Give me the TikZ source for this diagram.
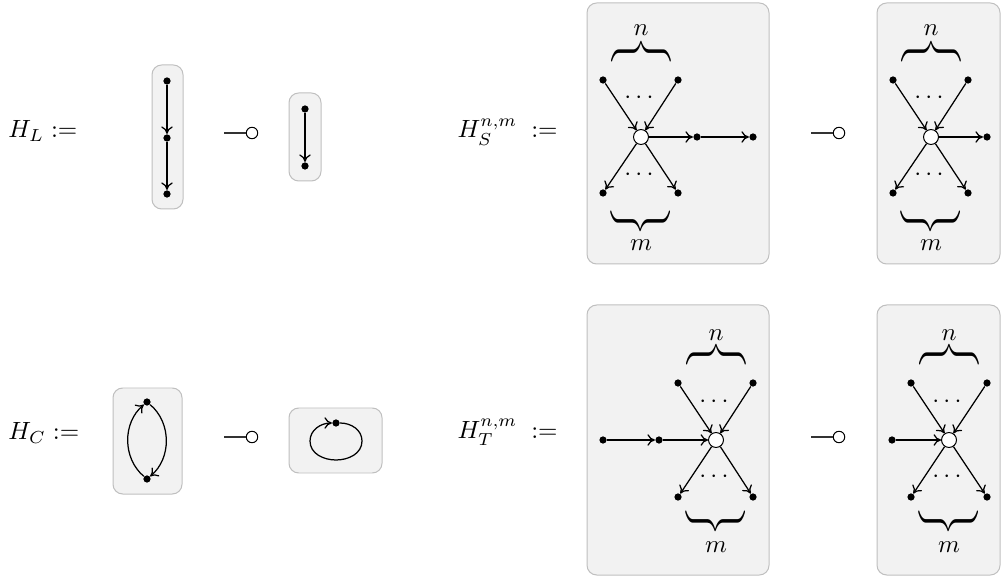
\documentclass[tikz,border=0pt]{standalone}
\usepackage{amsmath}
\usetikzlibrary{arrows.meta}
\begin{document}
\begin{tikzpicture}[x=0.0141cm,y=0.0141cm,>={To[length=3pt,width=4.6pt]}]
        \tikzstyle{vertex}=[circle,fill=black,inner sep=0pt,minimum size=2.9pt]
        \tikzstyle{hub}=[circle,draw=black,fill=white,inner sep=0pt,minimum size=6pt]
        \tikzstyle{edge}=[draw,line width=0.5pt,->]
        \tikzstyle{graphbox}=[draw=black!25,fill=black!5,rounded corners=3.9pt]
        \tikzstyle{hole}=[circle,draw=black,fill=white,inner sep=0pt,minimum size=4.6pt]
        \tikzstyle{stem}=[draw=black!80,line width=0.5pt]
        \tikzstyle{over}=[rotate=90,inner sep=0pt]
        \tikzstyle{under}=[rotate=-90,inner sep=0pt]
        \newcommand{\curly}{\scalebox{1.7}[1]{$\bigg\}$}}
        \useasboundingbox (0,0) rectangle (1001,576);

        % line
        \node [anchor=base west,inner sep=0pt] (hl) at (8,438) {$H_L :=$};
        \draw [graphbox] (152,367) rectangle (183,511);
        \node [vertex] (l1) at (167,495) {};
        \node [vertex] (l2) at (167,438) {};
        \node [vertex] (l3) at (167,382) {};
        \path[edge] (l1) to (l2);
        \path[edge] (l2) to (l3);
        \node [hole] (o1) at (252,443) {};
        \path[stem] (o1.west) -- ++(-22,0);
        \draw [graphbox] (289,395) rectangle (321,483);
        \node [vertex] (l4) at (305,467) {};
        \node [vertex] (l5) at (305,410) {};
        \path[edge] (l4) to (l5);

        % source star
        \node [anchor=base west,inner sep=0pt] (hs) at (457,438) {$H_S^{n,m} \;:=$};
        \draw [graphbox] (587,312) rectangle (769,573);
        \node [hub] (s0) at (641,439) {};
        \node [vertex] (s1) at (603,496) {};
        \node [vertex] (s2) at (678,496) {};
        \node [vertex] (s3) at (697,439) {};
        \node [vertex] (s4) at (753,439) {};
        \node [vertex] (s5) at (603,383) {};
        \node [vertex] (s6) at (678,383) {};
        \path[edge] (s1) to (s0);
        \path[edge] (s2) to (s0);
        \path[edge] (s0) to (s3);
        \path[edge] (s3) to (s4);
        \path[edge] (s0) to (s5);
        \path[edge] (s0) to (s6);
        \node (sd1) at (641,478) {$\cdots$};
        \node (sd2) at (641,401) {$\cdots$};
        \node [over] (sb1) at (641,524) {\curly};
        \node [under] (sb2) at (641,355) {\curly};
        \node (sn) at (641,546) {$n$};
        \node (sm) at (641,331) {$m$};

        \node [hole] (o2) at (839,443) {};
        \path[stem] (o2.west) -- ++(-22,0);
        \draw [graphbox] (877,312) rectangle (1000,573);
        \node [hub] (r0) at (931,439) {};
        \node [vertex] (r1) at (893,496) {};
        \node [vertex] (r2) at (968,496) {};
        \node [vertex] (r3) at (987,439) {};
        \node [vertex] (r5) at (893,383) {};
        \node [vertex] (r6) at (968,383) {};
        \path[edge] (r1) to (r0);
        \path[edge] (r2) to (r0);
        \path[edge] (r0) to (r3);
        \path[edge] (r0) to (r5);
        \path[edge] (r0) to (r6);
        \node (rd1) at (931,478) {$\cdots$};
        \node (rd2) at (931,401) {$\cdots$};
        \node [over] (rb1) at (931,524) {\curly};
        \node [under] (rb2) at (931,355) {\curly};
        \node (rn) at (931,546) {$n$};
        \node (rm) at (931,331) {$m$};

        % cycle
        \node [anchor=base west,inner sep=0pt] (hc) at (8,136) {$H_C :=$};
        \draw [graphbox] (113,82) rectangle (182,188);
        \node [vertex] (c1) at (147,174) {};
        \node [vertex] (c2) at (147,97) {};
        \path[edge] (c2) to [bend left=50] (c1);
        \path[edge] (c1) to [bend left=50] (c2);
        \node [hole] (o3) at (252,139) {};
        \path[stem] (o3.west) -- ++(-22,0);
        \draw [graphbox] (289,103) rectangle (382,168);
        \node [vertex] (c3) at (336,153) {};
        \path[edge] (c3) to [out=0,in=90] (362,135) to [out=-90,in=0] (336,116)
                         to [out=180,in=-90] (310,135) to [out=90,in=180] (c3);

        % target star
        \node [anchor=base west,inner sep=0pt] (ht) at (457,138) {$H_T^{n,m} \;:=$};
        \draw [graphbox] (587,1) rectangle (769,271);
        \node [hub] (t0) at (716,136) {};
        \node [vertex] (t1) at (603,136) {};
        \node [vertex] (t2) at (659,136) {};
        \node [vertex] (t3) at (678,193) {};
        \node [vertex] (t4) at (753,193) {};
        \node [vertex] (t5) at (678,79) {};
        \node [vertex] (t6) at (753,79) {};
        \path[edge] (t1) to (t2);
        \path[edge] (t2) to (t0);
        \path[edge] (t3) to (t0);
        \path[edge] (t4) to (t0);
        \path[edge] (t0) to (t5);
        \path[edge] (t0) to (t6);
        \node (td1) at (716,174) {$\cdots$};
        \node (td2) at (716,99) {$\cdots$};
        \node [over] (tb1) at (716,221) {\curly};
        \node [under] (tb2) at (716,55) {\curly};
        \node (tn) at (716,241) {$n$};
        \node (tm) at (716,29) {$m$};

        \node [hole] (o4) at (839,139) {};
        \path[stem] (o4.west) -- ++(-22,0);
        \draw [graphbox] (877,1) rectangle (1000,271);
        \node [hub] (u0) at (949,136) {};
        \node [vertex] (u1) at (892,136) {};
        \node [vertex] (u3) at (911,193) {};
        \node [vertex] (u4) at (987,193) {};
        \node [vertex] (u5) at (911,79) {};
        \node [vertex] (u6) at (987,79) {};
        \path[edge] (u1) to (u0);
        \path[edge] (u3) to (u0);
        \path[edge] (u4) to (u0);
        \path[edge] (u0) to (u5);
        \path[edge] (u0) to (u6);
        \node (ud1) at (949,174) {$\cdots$};
        \node (ud2) at (949,99) {$\cdots$};
        \node [over] (ub1) at (949,221) {\curly};
        \node [under] (ub2) at (949,55) {\curly};
        \node (un) at (949,241) {$n$};
        \node (um) at (949,29) {$m$};
\end{tikzpicture}
\end{document}
